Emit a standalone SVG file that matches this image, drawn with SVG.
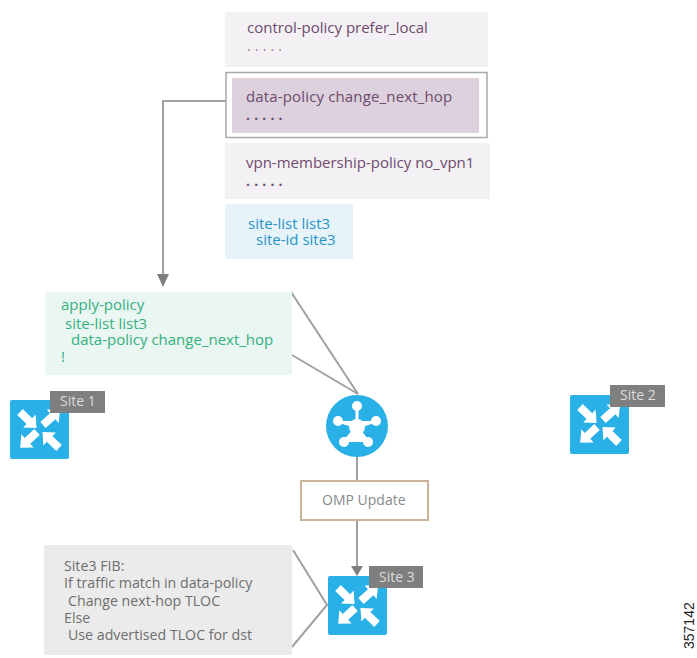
<svg xmlns="http://www.w3.org/2000/svg" xmlns:xlink="http://www.w3.org/1999/xlink" width="697" height="658" viewBox="0 0 697 658">
<style>
text{font-family:"Open Sans","Noto Sans","Liberation Sans",sans-serif;font-size:15px}
.p{fill:#6f4a6e}.b{fill:#2a93c6}.g{fill:#35b07f}.k{fill:#6e6e6e}
.f{font-size:14.200px}
.d{letter-spacing:.25px;font-size:14px;font-weight:700}
.s{fill:#dcdcdc;font-size:14px}
.c{fill:none;stroke:#a0a0a0;stroke-width:2}
.t{fill:#7f7f7f}
.ic{fill:#29b0e6}
</style>
<defs>
<polygon id="a" points="0,-4 13,-4 13,-9 23,0 13,9 13,4 0,4" fill="#fff"/>
<g id="router">
<rect class="ic" width="59" height="59" rx="2"/>
<use xlink:href="#a" href="#a" transform="translate(10,12) rotate(44)"/>
<use xlink:href="#a" href="#a" transform="translate(33,25) rotate(-42)"/>
<use xlink:href="#a" href="#a" transform="translate(27,32) rotate(137)"/>
<use xlink:href="#a" href="#a" transform="translate(49,48) rotate(-136)"/>
</g>
</defs>
<g id="connectors">
<path class="c" d="M226 101H163V275"/>
<polygon points="157,274 169,274 163,287" fill="#7f7f7f"/>
<path class="c" d="M291 292L358 394L292 355"/>
<path class="c" d="M357 457V481M357 520V567"/>
<polygon points="351,566 363,566 357,576" fill="#7f7f7f"/>
<path class="c" d="M293 550L327 605L292 647"/>
</g>
<g id="control-policy">
<rect x="225" y="12" width="263" height="55" fill="#f3f1f4"/>
<text class="p" x="247" y="33">control-policy prefer_local</text>
<text class="p d" x="247" y="51" style="font-weight:400;opacity:.7">. . . . .</text>
</g>
<g id="data-policy">
<rect x="226" y="72.500" width="261" height="65" fill="#fff" stroke="#a8a8a8" stroke-width="1.500"/>
<rect x="232" y="78" width="247" height="55" fill="#dcd1dc"/>
<text class="p" x="246" y="102" style="letter-spacing:.15px;font-weight:500">data-policy change_next_hop</text>
<text class="p d" x="246" y="120">. . . . .</text>
</g>
<g id="vpn-membership-policy">
<rect x="225" y="143" width="265" height="56" fill="#f3f1f4"/>
<text class="p" x="246" y="168">vpn-membership-policy no_vpn1</text>
<text class="p d" x="246" y="186">. . . . .</text>
</g>
<g id="site-list">
<rect x="225" y="204" width="128" height="55" fill="#e6f3f9"/>
<text class="b"><tspan x="248" y="229">site-list list3</tspan><tspan x="256" y="245">site-id site3</tspan></text>
</g>
<g id="apply-policy">
<rect x="45" y="292" width="247" height="83" fill="#e9f6f1"/>
<text class="g"><tspan x="61" y="310">apply-policy</tspan><tspan x="65" y="329">site-list list3</tspan><tspan x="71" y="345">data-policy change_next_hop</tspan><tspan x="61" y="362">!</tspan></text>
</g>
<g id="site1">
<use xlink:href="#router" href="#router" x="10" y="400"/>
<rect class="t" x="50" y="391" width="55" height="22"/>
<text class="s" x="60" y="406">Site 1</text>
</g>
<g id="site2">
<use xlink:href="#router" href="#router" x="570" y="395"/>
<rect class="t" x="610" y="385" width="55" height="22"/>
<text class="s" x="620" y="400">Site 2</text>
</g>
<g id="site3">
<use xlink:href="#router" href="#router" x="328" y="576"/>
<rect class="t" x="369" y="566" width="54" height="22"/>
<text class="s" x="379" y="582">Site 3</text>
</g>
<g id="vsmart">
<circle class="ic" cx="357" cy="426" r="31"/>
<g stroke="#fff" stroke-width="3" fill="#fff">
<path d="M357 407V427M338 421L357 427L376 421M344 442L357 427L368 442"/>
<circle cx="357" cy="406" r="3.500"/><circle cx="338" cy="421" r="3.500"/><circle cx="376" cy="421" r="3.500"/><circle cx="344" cy="442" r="3.500"/><circle cx="368" cy="442" r="3.500"/>
<circle cx="357" cy="427" r="6.500"/>
</g>
</g>
<g id="omp-update">
<rect x="301" y="481" width="127" height="39" fill="#fff" stroke="#c9b497" stroke-width="2"/>
<text class="k" x="322" y="505" style="font-size:14px;fill:#8a8a8a">OMP Update</text>
</g>
<g id="fib">
<rect x="44" y="545" width="248" height="110" fill="#ebebeb"/>
<text class="k f"><tspan x="64" y="571">Site3 FIB:</tspan><tspan x="64" y="588">If traffic match in data-policy</tspan><tspan x="68" y="606">Change next-hop TLOC</tspan><tspan x="64" y="623">Else</tspan><tspan x="68" y="640">Use advertised TLOC for dst</tspan></text>
</g>
<text transform="translate(694,649) rotate(-90)" style="font-family:'Liberation Sans',Arial,sans-serif;font-size:14px" fill="#222">357142</text>
</svg>
